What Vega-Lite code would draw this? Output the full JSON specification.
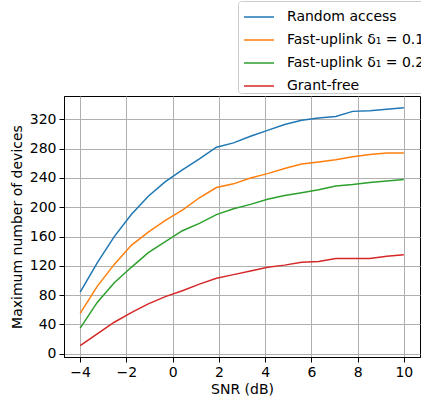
{
  "$schema": "https://vega.github.io/schema/vega-lite/v6.json",
  "autosize": "none",
  "width": 356,
  "height": 261,
  "padding": {"left": 64, "top": 96, "right": 1, "bottom": 44},
  "background": "white",
  "config": {
    "font": "DejaVu Sans",
    "view": {"stroke": "black", "strokeWidth": 1},
    "axis": {
      "labelFont": "DejaVu Sans", "titleFont": "DejaVu Sans",
      "labelFontSize": 14, "titleFontSize": 14, "titleFontWeight": "normal",
      "labelColor": "black", "titleColor": "black",
      "domainColor": "black", "tickColor": "black", "tickSize": 5, "labelPadding": 3,
      "gridColor": "#b0b0b0", "gridWidth": 1, "gridOpacity": 1
    }
  },
  "data": {"values": [
    {"snr": -4, "n": 84, "scheme": "Random access"},
    {"snr": -3.263, "n": 124, "scheme": "Random access"},
    {"snr": -2.526, "n": 160, "scheme": "Random access"},
    {"snr": -1.789, "n": 190, "scheme": "Random access"},
    {"snr": -1.053, "n": 215, "scheme": "Random access"},
    {"snr": -0.316, "n": 235, "scheme": "Random access"},
    {"snr": 0.421, "n": 251, "scheme": "Random access"},
    {"snr": 1.158, "n": 266, "scheme": "Random access"},
    {"snr": 1.895, "n": 282, "scheme": "Random access"},
    {"snr": 2.632, "n": 288, "scheme": "Random access"},
    {"snr": 3.368, "n": 297, "scheme": "Random access"},
    {"snr": 4.105, "n": 305, "scheme": "Random access"},
    {"snr": 4.842, "n": 313, "scheme": "Random access"},
    {"snr": 5.579, "n": 319, "scheme": "Random access"},
    {"snr": 6.316, "n": 322, "scheme": "Random access"},
    {"snr": 7.053, "n": 324, "scheme": "Random access"},
    {"snr": 7.789, "n": 331, "scheme": "Random access"},
    {"snr": 8.526, "n": 332, "scheme": "Random access"},
    {"snr": 9.263, "n": 334, "scheme": "Random access"},
    {"snr": 10, "n": 336, "scheme": "Random access"},
    {"snr": -4, "n": 55, "scheme": "Fast-uplink δ₁ = 0.1"},
    {"snr": -3.263, "n": 92, "scheme": "Fast-uplink δ₁ = 0.1"},
    {"snr": -2.526, "n": 122, "scheme": "Fast-uplink δ₁ = 0.1"},
    {"snr": -1.789, "n": 148, "scheme": "Fast-uplink δ₁ = 0.1"},
    {"snr": -1.053, "n": 166, "scheme": "Fast-uplink δ₁ = 0.1"},
    {"snr": -0.316, "n": 182, "scheme": "Fast-uplink δ₁ = 0.1"},
    {"snr": 0.421, "n": 196, "scheme": "Fast-uplink δ₁ = 0.1"},
    {"snr": 1.158, "n": 213, "scheme": "Fast-uplink δ₁ = 0.1"},
    {"snr": 1.895, "n": 227, "scheme": "Fast-uplink δ₁ = 0.1"},
    {"snr": 2.632, "n": 232, "scheme": "Fast-uplink δ₁ = 0.1"},
    {"snr": 3.368, "n": 240, "scheme": "Fast-uplink δ₁ = 0.1"},
    {"snr": 4.105, "n": 246, "scheme": "Fast-uplink δ₁ = 0.1"},
    {"snr": 4.842, "n": 253, "scheme": "Fast-uplink δ₁ = 0.1"},
    {"snr": 5.579, "n": 259, "scheme": "Fast-uplink δ₁ = 0.1"},
    {"snr": 6.316, "n": 262, "scheme": "Fast-uplink δ₁ = 0.1"},
    {"snr": 7.053, "n": 265, "scheme": "Fast-uplink δ₁ = 0.1"},
    {"snr": 7.789, "n": 269, "scheme": "Fast-uplink δ₁ = 0.1"},
    {"snr": 8.526, "n": 272, "scheme": "Fast-uplink δ₁ = 0.1"},
    {"snr": 9.263, "n": 274, "scheme": "Fast-uplink δ₁ = 0.1"},
    {"snr": 10, "n": 274, "scheme": "Fast-uplink δ₁ = 0.1"},
    {"snr": -4, "n": 35, "scheme": "Fast-uplink δ₁ = 0.2"},
    {"snr": -3.263, "n": 70, "scheme": "Fast-uplink δ₁ = 0.2"},
    {"snr": -2.526, "n": 97, "scheme": "Fast-uplink δ₁ = 0.2"},
    {"snr": -1.789, "n": 118, "scheme": "Fast-uplink δ₁ = 0.2"},
    {"snr": -1.053, "n": 138, "scheme": "Fast-uplink δ₁ = 0.2"},
    {"snr": -0.316, "n": 153, "scheme": "Fast-uplink δ₁ = 0.2"},
    {"snr": 0.421, "n": 168, "scheme": "Fast-uplink δ₁ = 0.2"},
    {"snr": 1.158, "n": 178, "scheme": "Fast-uplink δ₁ = 0.2"},
    {"snr": 1.895, "n": 190, "scheme": "Fast-uplink δ₁ = 0.2"},
    {"snr": 2.632, "n": 198, "scheme": "Fast-uplink δ₁ = 0.2"},
    {"snr": 3.368, "n": 204, "scheme": "Fast-uplink δ₁ = 0.2"},
    {"snr": 4.105, "n": 211, "scheme": "Fast-uplink δ₁ = 0.2"},
    {"snr": 4.842, "n": 216, "scheme": "Fast-uplink δ₁ = 0.2"},
    {"snr": 5.579, "n": 220, "scheme": "Fast-uplink δ₁ = 0.2"},
    {"snr": 6.316, "n": 224, "scheme": "Fast-uplink δ₁ = 0.2"},
    {"snr": 7.053, "n": 229, "scheme": "Fast-uplink δ₁ = 0.2"},
    {"snr": 7.789, "n": 231, "scheme": "Fast-uplink δ₁ = 0.2"},
    {"snr": 8.526, "n": 234, "scheme": "Fast-uplink δ₁ = 0.2"},
    {"snr": 9.263, "n": 236, "scheme": "Fast-uplink δ₁ = 0.2"},
    {"snr": 10, "n": 238, "scheme": "Fast-uplink δ₁ = 0.2"},
    {"snr": -4, "n": 11, "scheme": "Grant-free"},
    {"snr": -3.263, "n": 27, "scheme": "Grant-free"},
    {"snr": -2.526, "n": 43, "scheme": "Grant-free"},
    {"snr": -1.789, "n": 56, "scheme": "Grant-free"},
    {"snr": -1.053, "n": 68, "scheme": "Grant-free"},
    {"snr": -0.316, "n": 78, "scheme": "Grant-free"},
    {"snr": 0.421, "n": 86, "scheme": "Grant-free"},
    {"snr": 1.158, "n": 95, "scheme": "Grant-free"},
    {"snr": 1.895, "n": 103, "scheme": "Grant-free"},
    {"snr": 2.632, "n": 108, "scheme": "Grant-free"},
    {"snr": 3.368, "n": 113, "scheme": "Grant-free"},
    {"snr": 4.105, "n": 118, "scheme": "Grant-free"},
    {"snr": 4.842, "n": 121, "scheme": "Grant-free"},
    {"snr": 5.579, "n": 125, "scheme": "Grant-free"},
    {"snr": 6.316, "n": 126, "scheme": "Grant-free"},
    {"snr": 7.053, "n": 130, "scheme": "Grant-free"},
    {"snr": 7.789, "n": 130, "scheme": "Grant-free"},
    {"snr": 8.526, "n": 130, "scheme": "Grant-free"},
    {"snr": 9.263, "n": 133, "scheme": "Grant-free"},
    {"snr": 10, "n": 135, "scheme": "Grant-free"}
  ]},
  "mark": {"type": "line", "strokeWidth": 1.5},
  "encoding": {
    "x": {
      "field": "snr", "type": "quantitative",
      "scale": {"domain": [-4.7, 10.7], "nice": false, "zero": false},
      "axis": {"values": [-4, -2, 0, 2, 4, 6, 8, 10], "title": "SNR (dB)", "titlePadding": 3}
    },
    "y": {
      "field": "n", "type": "quantitative",
      "scale": {"domain": [-4.5, 352], "nice": false, "zero": false},
      "axis": {"values": [0, 40, 80, 120, 160, 200, 240, 280, 320], "title": "Maximum number of devices", "titlePadding": 5}
    },
    "color": {
      "field": "scheme", "type": "nominal",
      "scale": {
        "domain": ["Random access", "Fast-uplink δ₁ = 0.1", "Fast-uplink δ₁ = 0.2", "Grant-free"],
        "range": ["#1f77b4", "#ff7f0e", "#2ca02c", "#d62728"]
      },
      "legend": {
        "title": null,
        "orient": "none",
        "legendX": 174,
        "legendY": -95,
        "symbolType": "stroke",
        "symbolSize": 900,
        "symbolStrokeWidth": 1.5,
        "symbolOffset": 5,
        "rowPadding": -10,
        "padding": 0,
        "labelOffset": 12,
        "labelFontSize": 14,
        "labelFont": "DejaVu Sans",
        "labelColor": "black",
        "labelLimit": 300,
        "strokeColor": "#cccccc",
        "fillColor": "rgba(255,255,255,0.8)",
        "cornerRadius": 3
      }
    }
  }
}
